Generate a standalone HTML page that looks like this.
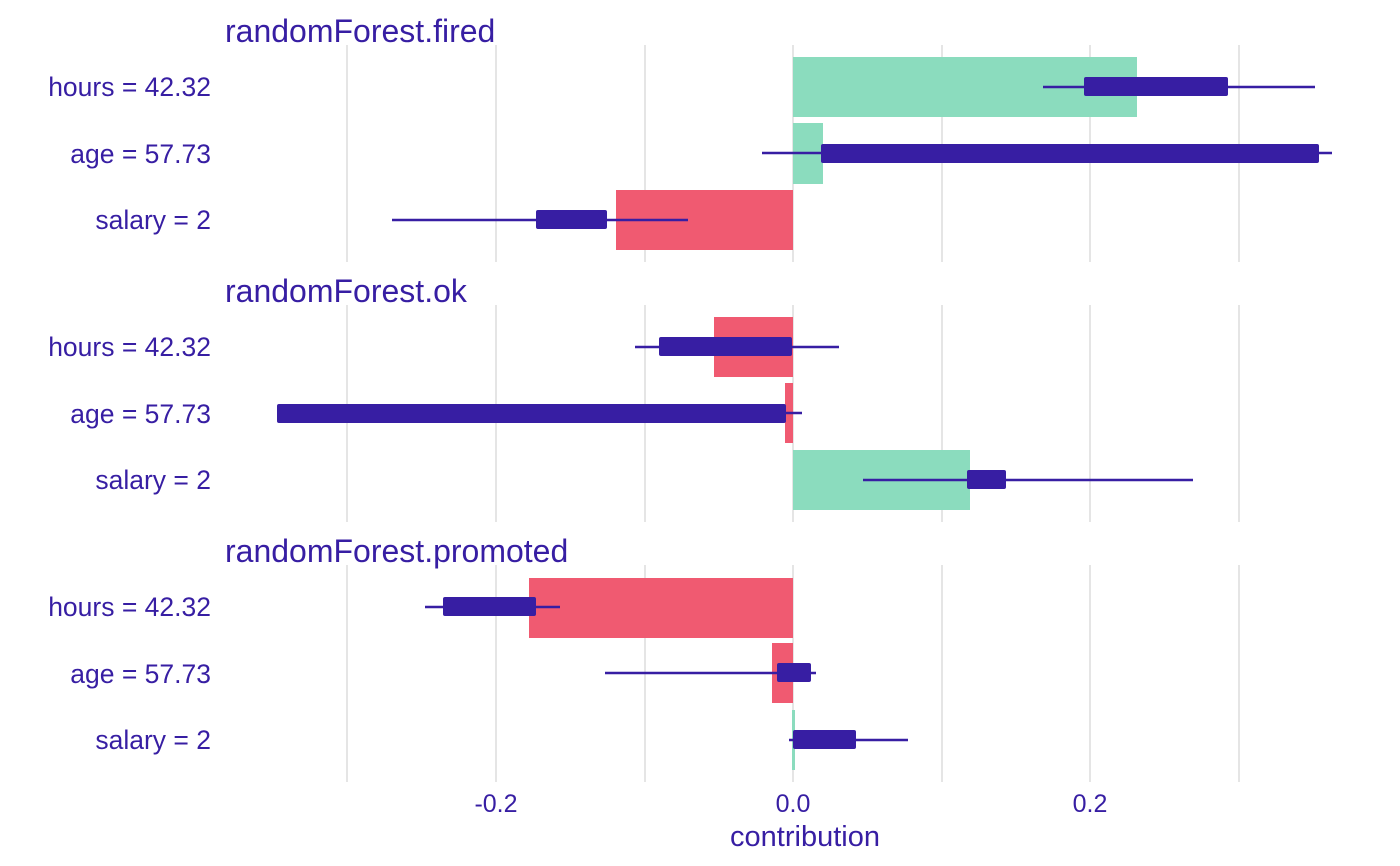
<!DOCTYPE html>
<html><head><style>body{margin:0;background:#fff}svg{display:block}text{font-family:"Liberation Sans",sans-serif;fill:#371ea3}</style></head>
<body>
<svg width="1400" height="866" viewBox="0 0 1400 866" xmlns="http://www.w3.org/2000/svg">
<g stroke="#e5e5e5" stroke-width="2">
<g id="g1"><line x1="347" x2="347" y1="45" y2="262"/><line x1="496" x2="496" y1="45" y2="262"/><line x1="645" x2="645" y1="45" y2="262"/><line x1="793" x2="793" y1="45" y2="262"/><line x1="942" x2="942" y1="45" y2="262"/><line x1="1090" x2="1090" y1="45" y2="262"/><line x1="1239" x2="1239" y1="45" y2="262"/></g>
<use href="#g1" y="260"/><use href="#g1" y="520"/>
</g>
<g font-size="26">
<text x="225" y="42" font-size="32">randomForest.fired</text>
<text x="225" y="302" font-size="32">randomForest.ok</text>
<text x="225" y="562" font-size="32">randomForest.promoted</text>
<g text-anchor="end" font-size="26.5">
<text x="211" y="96">hours = 42.32</text><text x="211" y="163">age = 57.73</text><text x="211" y="229">salary = 2</text>
<text x="211" y="356">hours = 42.32</text><text x="211" y="423">age = 57.73</text><text x="211" y="489">salary = 2</text>
<text x="211" y="616">hours = 42.32</text><text x="211" y="683">age = 57.73</text><text x="211" y="749">salary = 2</text>
</g>
<g text-anchor="middle" font-size="25"><text x="496" y="812">-0.2</text><text x="793" y="812">0.0</text><text x="1090" y="812">0.2</text>
<text x="805" y="846" font-size="29">contribution</text></g>
</g>
<g>
<rect x="793" y="57" width="344" height="60" fill="#8bdcbe"/>
<rect x="793" y="123" width="30" height="61" fill="#8bdcbe"/>
<rect x="616" y="190" width="177" height="60" fill="#f05a71"/>
<rect x="714" y="317" width="79" height="60" fill="#f05a71"/>
<rect x="785" y="383" width="8" height="60" fill="#f05a71"/>
<rect x="793" y="450" width="177" height="60" fill="#8bdcbe"/>
<rect x="529" y="578" width="264" height="60" fill="#f05a71"/>
<rect x="772" y="643" width="21" height="60" fill="#f05a71"/>
<rect x="792" y="710" width="3" height="60" fill="#8bdcbe"/>
</g>
<g stroke="#371ea3" stroke-width="2.5">
<line x1="1043" x2="1315" y1="87" y2="87"/><line x1="762" x2="1332" y1="153" y2="153"/><line x1="392" x2="688" y1="220" y2="220"/>
<line x1="635" x2="839" y1="347" y2="347"/><line x1="277" x2="802" y1="413" y2="413"/><line x1="863" x2="1193" y1="480" y2="480"/>
<line x1="425" x2="560" y1="607" y2="607"/><line x1="605" x2="816" y1="673" y2="673"/><line x1="789" x2="908" y1="740" y2="740"/>
</g>
<g fill="#371ea3">
<rect x="1084" y="77" width="144" height="19" rx="2"/>
<rect x="821" y="144" width="498" height="19" rx="2"/>
<rect x="536" y="210" width="71" height="19" rx="2"/>
<rect x="659" y="337" width="133" height="19" rx="2"/>
<rect x="277" y="404" width="509" height="19" rx="2"/>
<rect x="967" y="470" width="39" height="19" rx="2"/>
<rect x="443" y="597" width="93" height="19" rx="2"/>
<rect x="777" y="663" width="34" height="19" rx="2"/>
<rect x="793" y="730" width="63" height="19" rx="2"/>
</g>
</svg>
</body></html>
